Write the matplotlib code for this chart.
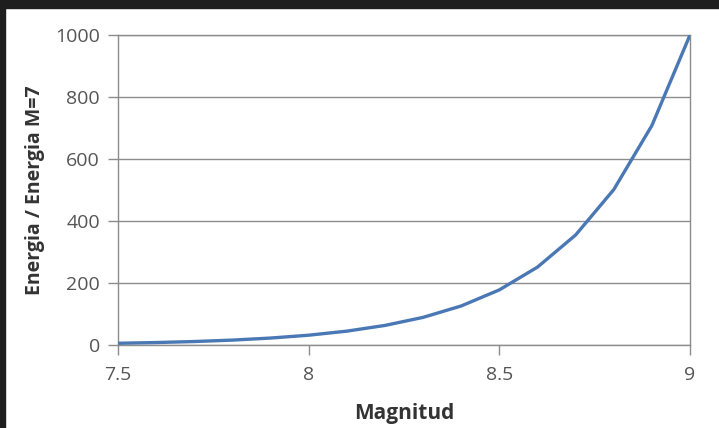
import matplotlib
matplotlib.use("Agg")
import matplotlib.pyplot as plt
from matplotlib.patches import Rectangle

magnitud = [7.5, 7.6, 7.7, 7.8, 7.9, 8.0, 8.1, 8.2, 8.3, 8.4, 8.5, 8.6, 8.7, 8.8, 8.9, 9.0]
energia = [5.6, 7.9, 11.2, 15.8, 22.4, 31.6, 44.7, 63.1, 89.1, 125.9, 177.8, 251.2, 354.8, 501.2, 707.9, 1000.0]
xticks = [7.5, 8, 8.5, 9]
xticklabels = ["7.5", "8", "8.5", "9"]
yticks = [0, 200, 400, 600, 800, 1000]

plt.rcParams['font.family'] = ['Open Sans', 'DejaVu Sans']

W, H = 719, 428
fig = plt.figure(figsize=(W/100, H/100), dpi=100)
fig.patch.set_facecolor('white')
# dark frame strips (top and left)
fig.patches.append(Rectangle((0, 1 - 8/H), 1, 8/H, transform=fig.transFigure, color='#1e1e1e', zorder=0))
fig.patches.append(Rectangle((0, 0), 5/W, 1, transform=fig.transFigure, color='#1e1e1e', zorder=0))

x0, x1 = 118, 690
y0, y1 = 35, 345
ax = fig.add_axes([x0/W, 1 - y1/H, (x1-x0)/W, (y1-y0)/H])
ax.plot(magnitud, energia, color='#4a78b4', lw=2.4, solid_joinstyle='round', zorder=3)
ax.set_xlim(7.5, 9)
ax.set_ylim(0, 1000)
ax.set_xticks(xticks)
ax.set_xticklabels(xticklabels)
ax.set_yticks(yticks)
ax.grid(axis='y', color='#8c8c8c', lw=1)
ax.set_axisbelow(True)
for s in ax.spines.values():
    s.set_color('#8c8c8c')
    s.set_linewidth(1)
ax.tick_params(axis='both', colors='#8c8c8c', length=7, width=1, labelcolor='#555555', labelsize=14)
ax.tick_params(axis='y', pad=6)
ax.tick_params(axis='x', pad=8)
ax.set_xlabel('Magnitud', fontsize=15, fontweight='bold', color='#333333', labelpad=14)
ax.set_ylabel('Energia / Energia M=7', fontsize=14, fontweight='bold', color='#333333', labelpad=7)

fig.savefig('out.png', dpi=100)
